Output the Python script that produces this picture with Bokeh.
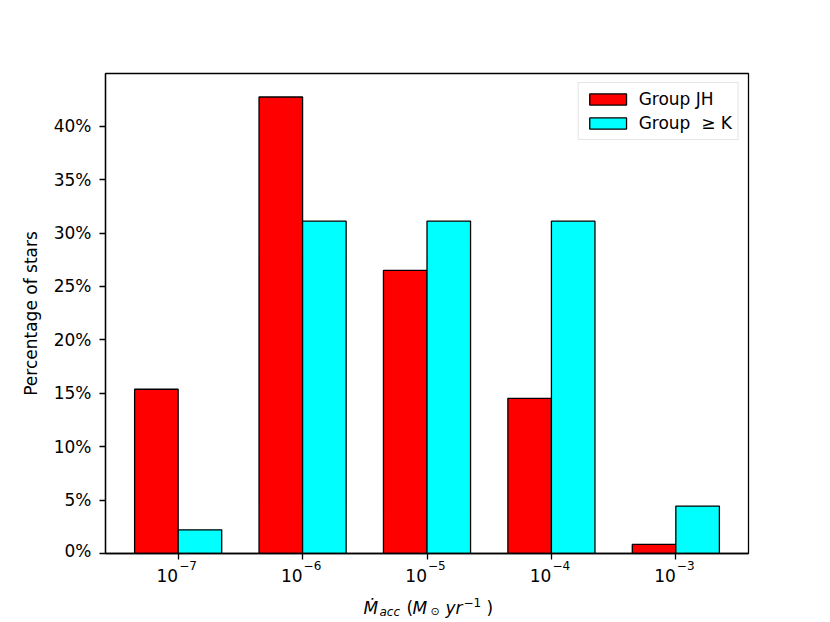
from bokeh.plotting import figure
from bokeh.models import ColumnDataSource, Range1d, FixedTicker, PrintfTickFormatter, Label
from bokeh.transform import dodge
from bokeh.layouts import column
from bokeh.embed import file_html
from bokeh.resources import INLINE

# ---- data ----
tick_base = ["10", "10", "10", "10", "10"]
tick_exponents = ["−7", "−6", "−5", "−4", "−3"]
group_jh = [15.38, 42.74, 26.50, 14.53, 0.85]   # percent of stars, Group JH
group_k = [2.22, 31.11, 31.11, 31.11, 4.44]     # percent of stars, Group >= K
y_ticks = [0, 5, 10, 15, 20, 25, 30, 35, 40]

FONT = "DejaVu Sans"
W = 830
H1 = 560
pos = list(range(len(tick_exponents)))
src = ColumnDataSource(dict(pos=pos, jh=group_jh, k=group_k))

# ---------------- main plot ----------------
p = figure(width=W, height=H1,
           x_range=Range1d(-0.584, 4.584), y_range=Range1d(0, 44.94),
           output_backend="svg", toolbar_location=None,
           min_border_left=105, min_border_right=82,
           min_border_top=73, min_border_bottom=H1 - 553)

bw = 0.35
p.vbar(x=dodge("pos", -bw / 2, range=p.x_range), top="jh", width=bw, bottom=0,
       source=src, fill_color="#ff0000", line_color="black", line_width=1.3,
       legend_label="Group JH")
p.vbar(x=dodge("pos", bw / 2, range=p.x_range), top="k", width=bw, bottom=0,
       source=src, fill_color="#00ffff", line_color="black", line_width=1.3,
       legend_label="Group  ≥ K")

p.xgrid.visible = False
p.ygrid.visible = False
p.outline_line_color = "black"
p.outline_line_width = 1.3
p.background_fill_color = "white"
p.border_fill_color = "white"

for ax in (p.xaxis, p.yaxis):
    ax.axis_line_color = "black"
    ax.axis_line_width = 1.3
    ax.major_tick_line_width = 1.3
    ax.major_tick_line_color = "black"
    ax.major_tick_in = 0
    ax.major_tick_out = 6
    ax.minor_tick_line_color = None
    ax.major_label_text_font = FONT
    ax.major_label_text_color = "black"
    ax.axis_label_text_font = FONT
    ax.axis_label_text_font_size = "17px"
    ax.axis_label_text_font_style = "normal"
    ax.axis_label_text_color = "black"

xa = p.xaxis
xa.ticker = FixedTicker(ticks=pos)
xa.major_label_text_font_size = "0px"
xa.major_label_standoff = 0
xa.major_label_overrides = {i: "" for i in pos}

ya = p.yaxis
ya.major_label_text_font_size = "17px"
ya.ticker = FixedTicker(ticks=y_ticks)
ya.formatter = PrintfTickFormatter(format="%d%%")
ya.major_label_standoff = 8
ya.axis_label = "Percentage of stars"
ya.axis_label_standoff = 10

lg = p.legend[0]
lg.location = "top_right"
lg.margin = 9
lg.padding = 6
lg.spacing = 4
lg.glyph_width = 46
lg.glyph_height = 14
lg.label_height = 20
lg.label_standoff = 8
lg.label_text_font = FONT
lg.label_text_font_size = "17px"
lg.label_text_color = "black"
lg.border_line_color = "#cccccc"
lg.border_line_width = 1.3
lg.background_fill_alpha = 0.8

# ---------------- strip below: tick labels and axis label ----------------
H2 = 622 - H1
p2 = figure(width=W, height=H2, x_range=p.x_range, y_range=Range1d(0, H2),
            output_backend="svg", toolbar_location=None,
            x_axis_location=None, y_axis_location=None,
            min_border_left=105, min_border_right=82,
            min_border_top=0, min_border_bottom=0)
p2.xgrid.visible = False
p2.ygrid.visible = False
p2.outline_line_color = None
p2.background_fill_color = "white"
p2.border_fill_color = "white"

for xp, b, e in zip(pos, tick_base, tick_exponents):
    p2.add_layout(Label(x=xp, y=47, x_units="data", y_units="screen", text=b,
                        text_font=FONT, text_font_size="17px", text_color="black",
                        text_align="right", text_baseline="alphabetic"))
    p2.add_layout(Label(x=xp, y=57, x_units="data", y_units="screen", text=e,
                        x_offset=1, text_font=FONT, text_font_size="12px",
                        text_color="black", text_align="left",
                        text_baseline="alphabetic"))

# x axis label built from pieces:  Ṁ_acc (M_⊙ yr^-1)
pieces = [
    ("Ṁ", 258, 15, "17px", "italic"),
    ("acc", 274, 11, "12px", "italic"),
    ("(", 301, 15, "17px", "normal"),
    ("M", 307, 15, "17px", "italic"),
    ("⊙", 325, 11, "11px", "normal"),
    ("yr", 340, 15, "17px", "italic"),
    ("−1", 358, 20, "12px", "normal"),
    (")", 381, 15, "17px", "normal"),
]
for txt, sx, sy, fs, st in pieces:
    p2.add_layout(Label(x=sx, y=sy, x_units="screen", y_units="screen",
                        text=txt, text_font=FONT, text_font_size=fs,
                        text_font_style=st, text_color="black",
                        text_align="left", text_baseline="alphabetic"))

layout = column(p, p2, spacing=0)
open("out.html", "w").write(file_html(layout, INLINE))
